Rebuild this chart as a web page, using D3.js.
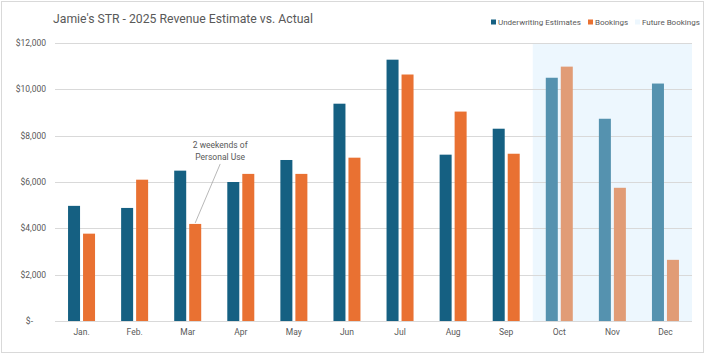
<!DOCTYPE html>
<html>
<head>
<meta charset="utf-8">
<script src="https://cdn.jsdelivr.net/npm/d3@7"></script>
<style>
  html, body { margin: 0; padding: 0; background: #fff; overflow: hidden; }
  svg { display: block; font-family: Roboto, "Open Sans", sans-serif; }
</style>
</head>
<body>
<svg id="chart"></svg>
<script>
// Monthly revenue
const months = ['Jan.', 'Feb.', 'Mar', 'Apr', 'May', 'Jun', 'Jul', 'Aug', 'Sep', 'Oct', 'Nov', 'Dec'];
const estimates = [4970, 4880, 6490, 6000, 6950, 9380, 11280, 7180, 8300, 10500, 8730, 10250];
const bookings = [3770, 6100, 4190, 6350, 6350, 7050, 10640, 9040, 7220, 10980, 5750, 2640];
const futureMonths = ['Oct', 'Nov', 'Dec'];
const yTicks = [0, 2000, 4000, 6000, 8000, 10000, 12000];

const width = 705, height = 354;
const margin = { top: 43, right: 13, bottom: 33, left: 55 };
const innerWidth = width - margin.left - margin.right;
const innerHeight = height - margin.top - margin.bottom;

const colors = {
  est: '#156082', book: '#E97132',
  estFuture: '#5592AF', bookFuture: '#E19C76',
  future: '#EDF7FE', grid: '#D9D9D9', text: '#595959'
};

const svg = d3.select('#chart')
  .attr('width', width)
  .attr('height', height)
  .attr('viewBox', `0 0 ${width} ${height}`);

// Chart border
svg.append('rect')
  .attr('x', 1.5).attr('y', 1.5)
  .attr('width', width - 3).attr('height', height - 3)
  .attr('fill', 'none')
  .attr('stroke', '#D9D9D9');

const x = d3.scaleBand().domain(months).range([0, innerWidth]);
const y = d3.scaleLinear().domain([0, 12000]).range([innerHeight, 0]);

const g = svg.append('g').attr('transform', `translate(${margin.left}, ${margin.top})`);

// Future bookings shading
g.append('rect')
  .attr('x', x(futureMonths[0]))
  .attr('y', y(12000))
  .attr('width', innerWidth - x(futureMonths[0]))
  .attr('height', y(0) - y(12000))
  .attr('fill', colors.future);

// Grid lines
g.append('g')
  .selectAll('line')
  .data(yTicks)
  .join('line')
  .attr('x1', 0).attr('x2', innerWidth)
  .attr('y1', d => Math.round(y(d)) + 0.5)
  .attr('y2', d => Math.round(y(d)) + 0.5)
  .attr('stroke', colors.grid)
  .attr('stroke-width', 1);

// Y axis labels
g.append('g')
  .selectAll('text')
  .data(yTicks)
  .join('text')
  .attr('x', d => d === 0 ? -22 : -9)
  .attr('y', d => y(d) + 3)
  .attr('text-anchor', 'end')
  .attr('font-size', '8.5px')
  .attr('fill', colors.text)
  .text(d => d === 0 ? '$-' : d3.format('$,')(d));

// X axis labels
g.append('g')
  .selectAll('text')
  .data(months)
  .join('text')
  .attr('x', d => x(d) + x.bandwidth() / 2)
  .attr('y', innerHeight + 14)
  .attr('text-anchor', 'middle')
  .attr('font-size', '8.5px')
  .attr('fill', colors.text)
  .text(d => d);

// Bars
const barW = 12, gap = 3;
const isFuture = m => futureMonths.includes(m);

g.append('g')
  .selectAll('rect')
  .data(months)
  .join('rect')
  .attr('x', d => x(d) + x.bandwidth() / 2 - barW - gap / 2)
  .attr('y', (d, i) => y(estimates[i]))
  .attr('width', barW)
  .attr('height', (d, i) => y(0) - y(estimates[i]))
  .attr('fill', d => isFuture(d) ? colors.estFuture : colors.est);

g.append('g')
  .selectAll('rect')
  .data(months)
  .join('rect')
  .attr('x', d => x(d) + x.bandwidth() / 2 + gap / 2)
  .attr('y', (d, i) => y(bookings[i]))
  .attr('width', barW)
  .attr('height', (d, i) => y(0) - y(bookings[i]))
  .attr('fill', d => isFuture(d) ? colors.bookFuture : colors.book);

// Baseline
g.append('line')
  .attr('x1', 0).attr('x2', innerWidth)
  .attr('y1', Math.round(y(0)) + 0.5).attr('y2', Math.round(y(0)) + 0.5)
  .attr('stroke', colors.grid);

// Annotation for March bookings
const marX = x('Mar') + x.bandwidth() / 2 + gap / 2 + barW / 2;
const marY = y(bookings[months.indexOf('Mar')]);
const noteX = marX + 25;
g.append('line')
  .attr('x1', marX).attr('y1', marY - 1)
  .attr('x2', noteX).attr('y2', marY - 60)
  .attr('stroke', '#A6A6A6')
  .attr('stroke-width', 0.8);
const note = g.append('text')
  .attr('text-anchor', 'middle')
  .attr('font-size', '8.5px')
  .attr('fill', colors.text);
note.append('tspan').attr('x', noteX).attr('y', marY - 76).text('2 weekends of');
note.append('tspan').attr('x', noteX).attr('y', marY - 64).text('Personal Use');

// Title
svg.append('text')
  .attr('x', 183)
  .attr('y', 23)
  .attr('text-anchor', 'middle')
  .attr('font-size', '13.5px')
  .attr('textLength', 260)
  .attr('lengthAdjust', 'spacingAndGlyphs')
  .attr('fill', colors.text)
  .text("Jamie's STR - 2025 Revenue Estimate vs. Actual");

// Legend
const legend = [
  { label: 'Underwriting Estimates', color: colors.est, x: 491 },
  { label: 'Bookings', color: colors.book, x: 588 },
  { label: 'Future Bookings', color: colors.future, x: 635 }
];
const lg = svg.append('g');
legend.forEach(item => {
  lg.append('rect')
    .attr('x', item.x).attr('y', 19.5)
    .attr('width', 5).attr('height', 5)
    .attr('fill', item.color);
  lg.append('text')
    .attr('x', item.x + 7)
    .attr('y', 25)
    .attr('font-size', '8px')
    .attr('fill', colors.text)
    .text(item.label);
});
</script>
</body>
</html>
